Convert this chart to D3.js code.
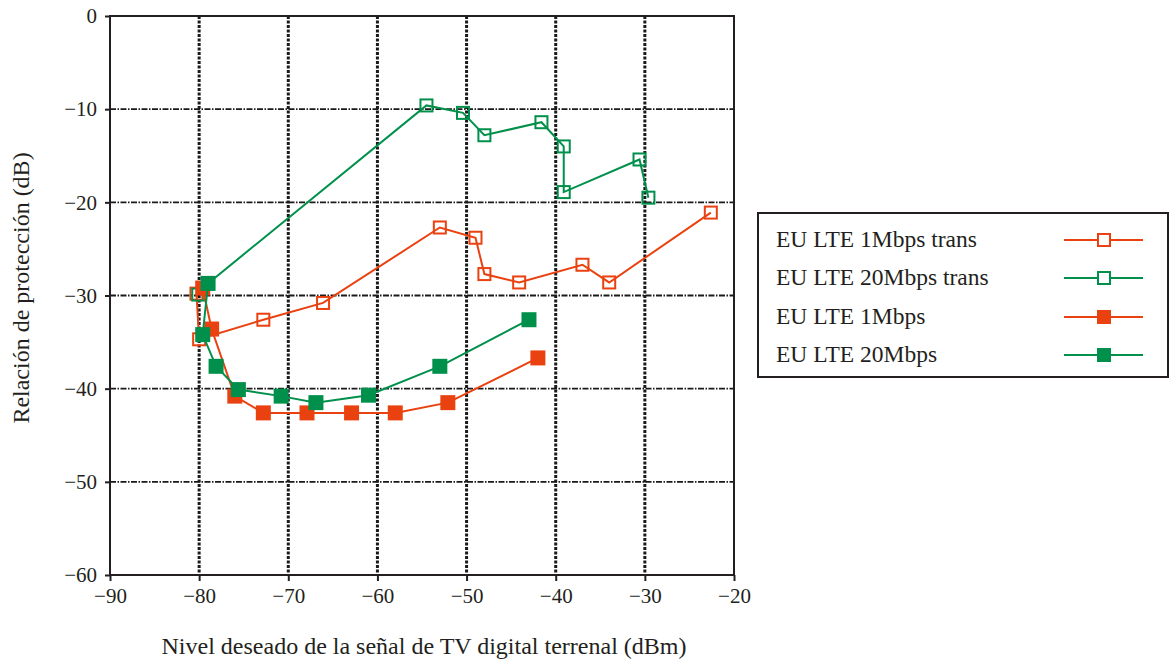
<!DOCTYPE html>
<html>
<head>
<meta charset="utf-8">
<script src="https://cdn.jsdelivr.net/npm/d3@7"></script>
<style>
  body { margin: 0; background: #fff; }
  svg { display: block; }
  text { font-family: "Liberation Serif", "Times New Roman", serif; fill: #231f20; }
</style>
</head>
<body>
<svg id="chart" width="1169" height="661"></svg>
<script>
// Desired DTT signal level (dBm) and protection ratio (dB) for each LTE case
const seriesNames = ["EU LTE 1Mbps trans", "EU LTE 20Mbps trans", "EU LTE 1Mbps", "EU LTE 20Mbps"];

const lte1TransX = [-80.3, -80.0, -72.8, -66.1, -53.0, -49.0, -48.0, -44.1, -37.0, -34.0, -22.6];
const lte1TransY = [-29.8, -34.7, -32.6, -30.8, -22.7, -23.8, -27.7, -28.6, -26.7, -28.6, -21.1];

const lte20TransX = [-80.1, -79.0, -54.5, -50.4, -48.0, -41.6, -39.1, -39.1, -30.6, -29.6];
const lte20TransY = [-29.9, -28.7, -9.6, -10.4, -12.8, -11.4, -14.0, -18.9, -15.4, -19.5];

const lte1X = [-79.6, -78.6, -76.0, -72.8, -67.9, -62.9, -58.0, -52.1, -42.0];
const lte1Y = [-29.2, -33.6, -40.8, -42.6, -42.6, -42.6, -42.6, -41.5, -36.7];

const lte20X = [-79.0, -79.6, -78.1, -75.6, -70.8, -66.9, -61.0, -53.0, -43.0];
const lte20Y = [-28.7, -34.2, -37.6, -40.1, -40.8, -41.5, -40.7, -37.6, -32.6];

const xTicks = [-90, -80, -70, -60, -50, -40, -30, -20];
const yTicks = [0, -10, -20, -30, -40, -50, -60];

const xTitle = "Nivel deseado de la señal de TV digital terrenal (dBm)";
const yTitle = "Relación de protección (dB)";

const orange = "#ea4110";
const green = "#00904b";

const series = [
  { name: seriesNames[0], xs: lte1TransX, ys: lte1TransY, color: orange, filled: false },
  { name: seriesNames[1], xs: lte20TransX, ys: lte20TransY, color: green, filled: false },
  { name: seriesNames[2], xs: lte1X, ys: lte1Y, color: orange, filled: true },
  { name: seriesNames[3], xs: lte20X, ys: lte20Y, color: green, filled: true }
];

const svg = d3.select("#chart");
const plotL = 110, plotR = 734, plotT = 16, plotB = 575;

const x = d3.scaleLinear().domain([-90, -20]).range([plotL, plotR]);
const y = d3.scaleLinear().domain([0, -60]).range([plotT, plotB]);

const fmt = v => (v < 0 ? "\u2212" + Math.abs(v) : String(v));

// grid lines
const grid = svg.append("g");
grid.selectAll("line.v").data(xTicks.filter(t => t > -90 && t < -20)).join("line")
  .attr("class", "v")
  .attr("x1", d => x(d)).attr("x2", d => x(d))
  .attr("y1", plotT).attr("y2", plotB)
  .attr("stroke", "#1a1a1a").attr("stroke-width", 3)
  .attr("stroke-dasharray", "3 1.5");
grid.selectAll("line.h").data(yTicks.filter(t => t < 0 && t > -60)).join("line")
  .attr("class", "h")
  .attr("x1", plotL).attr("x2", plotR)
  .attr("y1", d => y(d)).attr("y2", d => y(d))
  .attr("stroke", "#1a1a1a").attr("stroke-width", 1.8)
  .attr("stroke-dasharray", "6 1.5 1.5 1.5");

// frame
svg.append("rect")
  .attr("x", plotL).attr("y", plotT)
  .attr("width", plotR - plotL).attr("height", plotB - plotT)
  .attr("fill", "none").attr("stroke", "#231f20").attr("stroke-width", 2);

// axes
const xAxis = svg.append("g").attr("transform", `translate(0,${plotB})`)
  .call(d3.axisBottom(x).tickValues(xTicks).tickFormat(fmt).tickSize(6).tickPadding(7));
const yAxis = svg.append("g").attr("transform", `translate(${plotL},0)`)
  .call(d3.axisLeft(y).tickValues(yTicks).tickFormat(fmt).tickSize(5).tickPadding(8));
[xAxis, yAxis].forEach(a => {
  a.select(".domain").remove();
  a.selectAll(".tick line").attr("stroke", "#231f20").attr("stroke-width", 2);
  a.selectAll(".tick text").attr("font-size", 21)
    .attr("font-family", "Liberation Serif, serif").attr("fill", "#231f20");
});

// axis titles
svg.append("text")
  .attr("x", 424).attr("y", 654)
  .attr("text-anchor", "middle").attr("font-size", 24)
  .text(xTitle);
svg.append("text")
  .attr("transform", "translate(29,288) rotate(-90)")
  .attr("text-anchor", "middle").attr("font-size", 24)
  .text(yTitle);

// series lines and markers
const line = d3.line().x(d => x(d[0])).y(d => y(d[1]));
series.forEach(s => {
  const pts = s.xs.map((v, i) => [v, s.ys[i]]);
  const g = svg.append("g");
  g.append("path").datum(pts)
    .attr("d", line).attr("fill", "none")
    .attr("stroke", s.color).attr("stroke-width", 2);
  if (s.filled) {
    g.selectAll("rect").data(pts).join("rect")
      .attr("x", d => x(d[0]) - 7.5).attr("y", d => y(d[1]) - 7.5)
      .attr("width", 15).attr("height", 15)
      .attr("fill", s.color);
  } else {
    g.selectAll("rect").data(pts).join("rect")
      .attr("x", d => x(d[0]) - 6).attr("y", d => y(d[1]) - 6)
      .attr("width", 12).attr("height", 12)
      .attr("fill", "none").attr("stroke", s.color).attr("stroke-width", 2);
  }
});

// legend
const lg = svg.append("g");
lg.append("rect")
  .attr("x", 758).attr("y", 213).attr("width", 410).attr("height", 164)
  .attr("fill", "#fff").attr("stroke", "#231f20").attr("stroke-width", 2);
const rowY = [240, 278, 317, 355];
series.forEach((s, i) => {
  const cy = rowY[i];
  lg.append("text").attr("x", 776).attr("y", cy + 7)
    .attr("font-size", 23.5).text(s.name);
  lg.append("line")
    .attr("x1", 1064).attr("x2", 1143).attr("y1", cy).attr("y2", cy)
    .attr("stroke", s.color).attr("stroke-width", 2);
  if (s.filled) {
    lg.append("rect").attr("x", 1097).attr("y", cy - 7).attr("width", 14).attr("height", 14)
      .attr("fill", s.color);
  } else {
    lg.append("rect").attr("x", 1098).attr("y", cy - 6).attr("width", 12).attr("height", 12)
      .attr("fill", "#fff").attr("stroke", s.color).attr("stroke-width", 2);
  }
});
</script>
</body>
</html>
